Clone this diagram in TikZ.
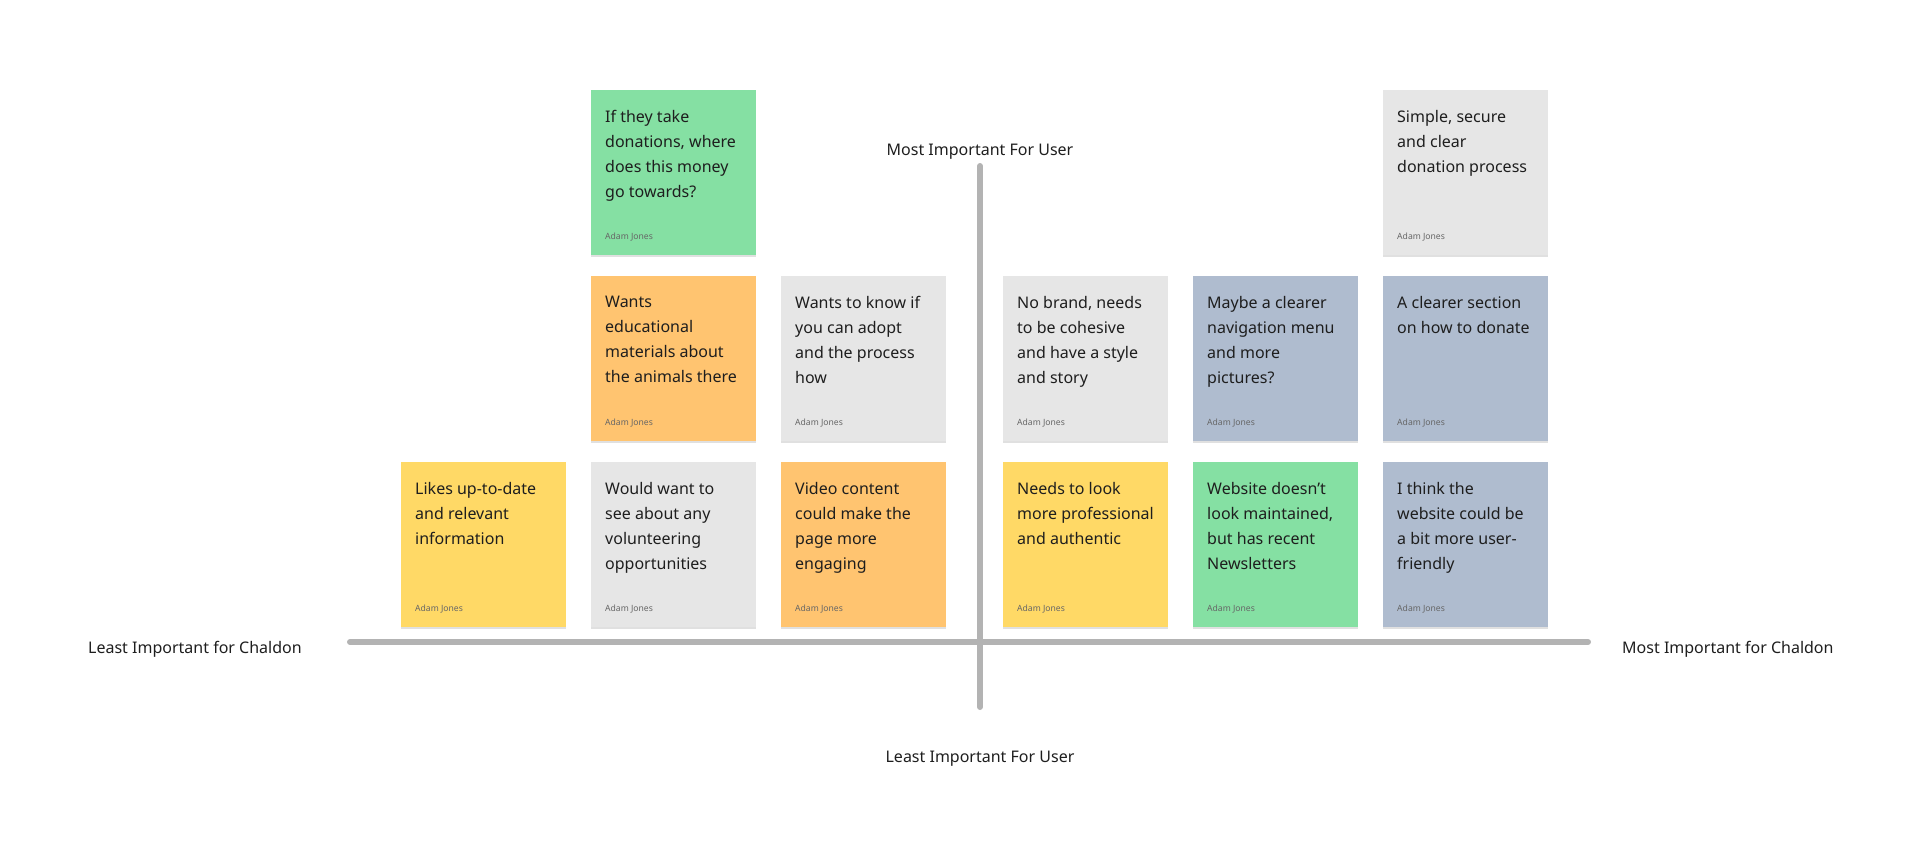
\documentclass[tikz,border=0pt]{standalone}
\usepackage{fontspec}
\setmainfont{Noto Sans}
\usetikzlibrary{shadows}
\definecolor{notegreen}{HTML}{85E0A3}
\definecolor{noteorange}{HTML}{FFC470}
\definecolor{noteyellow}{HTML}{FFD966}
\definecolor{notegrey}{HTML}{E6E6E6}
\definecolor{noteblue}{HTML}{AFBCCF}
\definecolor{axisgrey}{HTML}{B3B3B3}
\definecolor{inkdark}{HTML}{1E1E1E}
\tikzset{
  sticky/.style={fill=#1, minimum width=165pt, minimum height=165pt,
    anchor=north west, inner sep=0pt,
    drop shadow={shadow xshift=0pt, shadow yshift=-2pt, opacity=.12, fill=black}},
  notetext/.style={anchor=north west, inner sep=0pt, align=left, text=inkdark,
    font=\fontsize{16}{25}\selectfont},
  author/.style={anchor=west, inner sep=0pt, text=black!60,
    font=\fontsize{8.6}{10}\selectfont},
  axisline/.style={line width=6pt, axisgrey, line cap=round},
  axislabel/.style={inner sep=0pt, text=inkdark, font=\fontsize{16}{20}\selectfont}
}
\begin{document}
\begin{tikzpicture}[x=1pt,y=-1pt]
    \useasboundingbox (0,0) rectangle (1920,854);
    % axes
    \coordinate (left) at (350,642);
    \coordinate (right) at (1588,642);
    \coordinate (top) at (980,166);
    \coordinate (bottom) at (980,707);
    \draw[axisline] (left) -- (right);
    \draw[axisline] (top) -- (bottom);
    \node[axislabel, anchor=base] (usermost) at (980,155) {Most Important For User};
    \node[axislabel, anchor=base] (userleast) at (980,762) {Least Important For User};
    \node[axislabel, anchor=base west] (chaldonleast) at (88,653) {Least Important for Chaldon};
    \node[axislabel, anchor=base west] (chaldonmost) at (1622,653) {Most Important for Chaldon};
    % sticky notes
    \foreach \x/\y/\c/\t [count=\i] in {
        591/90/notegreen/{If they take\\donations, where\\does this money\\go towards?},
        1383/90/notegrey/{Simple, secure\\and clear\\donation process},
        591/276/noteorange/{Wants\\educational\\materials about\\the animals there},
        781/276/notegrey/{Wants to know if\\you can adopt\\and the process\\how},
        1003/276/notegrey/{No brand, needs\\to be cohesive\\and have a style\\and story},
        1193/276/noteblue/{Maybe a clearer\\navigation menu\\and more\\pictures?},
        1383/276/noteblue/{A clearer section\\on how to donate},
        401/462/noteyellow/{Likes up-to-date\\and relevant\\information},
        591/462/notegrey/{Would want to\\see about any\\volunteering\\opportunities},
        781/462/noteorange/{Video content\\could make the\\page more\\engaging},
        1003/462/noteyellow/{Needs to look\\more professional\\and authentic},
        1193/462/notegreen/{Website doesn’t\\look maintained,\\but has recent\\Newsletters},
        1383/462/noteblue/{I think the\\website could be\\a bit more user-\\friendly}} {
      \node[sticky=\c] (note\i) at (\x,\y) {};
      \node[notetext] (text\i) at ([shift={(14,20)}]note\i.north west) {\t};
      \node[author] (author\i) at ([shift={(14,-18)}]note\i.south west) {Adam Jones};
    }
\end{tikzpicture}
\end{document}
